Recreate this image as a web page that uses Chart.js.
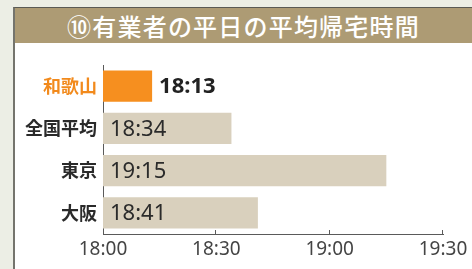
<!DOCTYPE html>
<html lang="ja">
<head>
<meta charset="utf-8">
<script src="https://cdn.jsdelivr.net/npm/chart.js@4/dist/chart.umd.min.js"></script>
<style>
  html, body { margin: 0; padding: 0; }
  body { width: 472px; height: 269px; background: #eceee5; position: relative; overflow: hidden; }
  #panel { position: absolute; left: 13px; top: 7px; width: 459px; height: 262px; background: #ffffff;
           border-left: 2px solid #74746d; border-top: 1px solid #5a5a54; box-sizing: border-box; }
  #header { height: 35px; background: #ad9b74; color: #ffffff; text-align: center;
            font-family: "Noto Sans CJK JP", "Noto Sans", sans-serif; font-size: 24px; line-height: 35px;
            letter-spacing: 1.2px; font-weight: 500; }
  #chart { position: absolute; left: 0; top: 0; }
</style>
</head>
<body>
<div id="panel"><div id="header">⑩有業者の平日の平均帰宅時間</div></div>
<canvas id="chart" width="472" height="269"></canvas>
<script>
// ---- data ----
const categories = ['和歌山', '全国平均', '東京', '大阪'];
const homeTimes = ['18:13', '18:34', '19:15', '18:41'];
const axisTicks = ['18:00', '18:30', '19:00', '19:30'];
const barColors = ['#f68f1f', '#d9d0bd', '#d9d0bd', '#d9d0bd'];
const labelColors = ['#f28a1c', '#2a2a2a', '#2a2a2a', '#2a2a2a'];

const toMin = s => { const [h, m] = s.split(':').map(Number); return h * 60 + m; };
const toHHMM = v => { const h = Math.floor(v / 60), m = v % 60; return h + ':' + String(m).padStart(2, '0'); };
const values = homeTimes.map(toMin);
const tickMins = axisTicks.map(toMin);

const valueLabels = {
  id: 'valueLabels',
  afterDatasetsDraw(chart) {
    const ctx = chart.ctx;
    const meta = chart.getDatasetMeta(0);
    const xs = chart.scales.x;
    ctx.save();
    ctx.textBaseline = 'middle';
    ctx.textAlign = 'left';
    meta.data.forEach((bar, i) => {
      if (i === 0) {
        ctx.font = 'bold 22px "Noto Sans", sans-serif';
        ctx.fillStyle = '#222222';
        ctx.fillText(homeTimes[i], bar.x + 7, bar.y + 1);
      } else {
        ctx.font = '22px "Noto Sans", sans-serif';
        ctx.fillStyle = '#2b2b2b';
        ctx.fillText(homeTimes[i], xs.left + 7, bar.y + 1);
      }
    });
    // upward tick marks on x axis
    ctx.strokeStyle = '#5a5a5a';
    ctx.lineWidth = 1;
    const yb = chart.chartArea.bottom;
    tickMins.slice(1).forEach(v => {
      const x = Math.round(xs.getPixelForValue(v)) - 0.5;
      ctx.beginPath();
      ctx.moveTo(x, yb);
      ctx.lineTo(x, yb - 4);
      ctx.stroke();
    });
    ctx.restore();
  }
};

new Chart(document.getElementById('chart'), {
  type: 'bar',
  data: {
    labels: categories,
    datasets: [{
      data: values,
      backgroundColor: barColors,
      borderWidth: 0,
      barPercentage: 0.74,
      categoryPercentage: 1.0
    }]
  },
  options: {
    indexAxis: 'y',
    responsive: false,
    animation: false,
    devicePixelRatio: 1,
    layout: { padding: { top: 65, right: 29, left: 0, bottom: 0 } },
    plugins: { legend: { display: false }, tooltip: { enabled: false }, title: { display: false } },
    scales: {
      x: {
        min: tickMins[0],
        max: tickMins[tickMins.length - 1],
        afterBuildTicks(scale) { scale.ticks = tickMins.map(v => ({ value: v })); },
        afterFit(scale) { scale.height = 35; },
        grid: { display: false, drawTicks: false },
        border: { display: true, color: '#5a5a5a', width: 1 },
        ticks: {
          callback: v => toHHMM(v),
          font: { family: '"Noto Sans", sans-serif', size: 19 },
          color: '#444444',
          padding: 4,
          maxRotation: 0,
          autoSkip: false
        }
      },
      y: {
        afterFit(scale) { scale.width = 103; },
        grid: { display: false, drawTicks: false },
        border: { display: true, color: '#5a5a5a', width: 1 },
        ticks: {
          font: { family: '"Noto Sans CJK JP", sans-serif', size: 18, weight: 'bold' },
          color: ctx => labelColors[ctx.index],
          padding: 6
        }
      }
    }
  },
  plugins: [valueLabels]
});
</script>
</body>
</html>
